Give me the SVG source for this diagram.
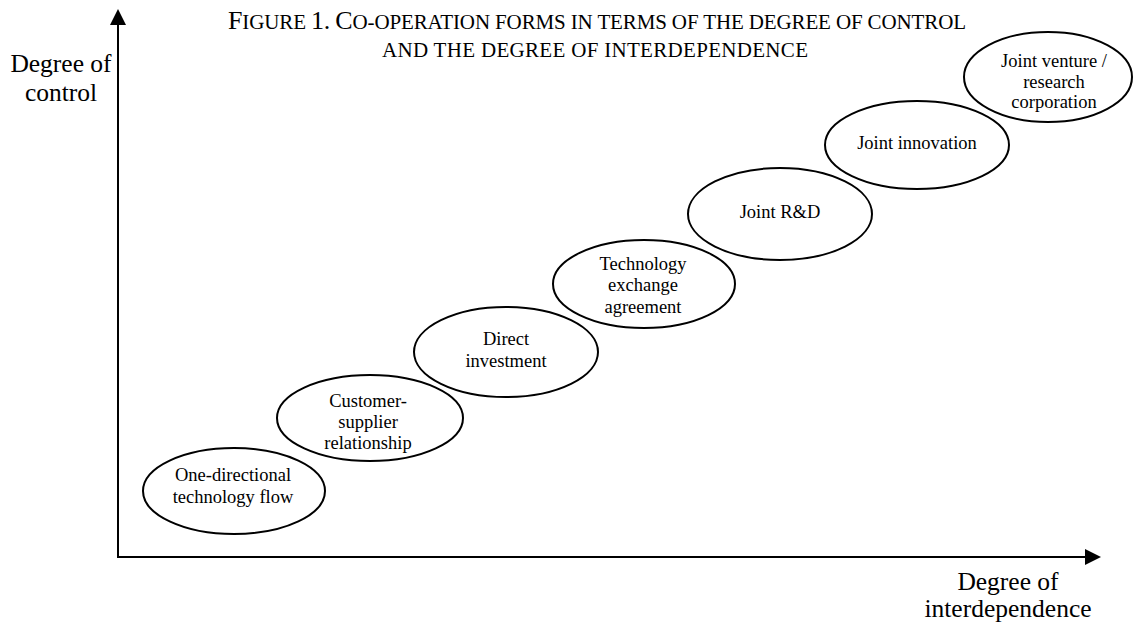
<svg xmlns="http://www.w3.org/2000/svg" width="1138" height="625" viewBox="0 0 1138 625">
<style>
.t{font-family:"Liberation Serif","Times New Roman",serif;fill:#000;text-anchor:middle}
.n{font-size:18.5px}
.ax{font-size:25.5px}
.title{font-size:21px}
.big{font-size:26px}
.node ellipse{fill:#fff;stroke:#000;stroke-width:2}
.axis line{stroke:#000;stroke-width:2}
</style>
<defs>
<marker id="arr" markerUnits="userSpaceOnUse" markerWidth="16" markerHeight="16" refX="0" refY="8" orient="auto">
<path d="M0,0 L16,8 L0,16 z" fill="#000"/>
</marker>
</defs>
<rect width="1138" height="625" fill="#fff"/>
<g id="title">
<text class="t title" x="597" y="29" textLength="738"><tspan class="big">F</tspan>IGURE <tspan class="big">1.</tspan> <tspan class="big">C</tspan>O-OPERATION FORMS IN TERMS OF THE DEGREE OF CONTROL</text>
<text class="t title" x="595" y="57" textLength="426">AND THE DEGREE OF INTERDEPENDENCE</text>
</g>
<g id="connectors" class="axis">
<line x1="118" y1="557" x2="118" y2="25" marker-end="url(#arr)"/>
<line x1="117" y1="557" x2="1085" y2="557" marker-end="url(#arr)"/>
</g>
<g id="y-label"><text class="t ax" x="61" y="72">Degree of</text><text class="t ax" x="61" y="101">control</text></g>
<g id="x-label"><text class="t ax" x="1008" y="590">Degree of</text><text class="t ax" x="1008" y="617">interdependence</text></g>
<g id="n1" class="node"><ellipse cx="234" cy="491" rx="91" ry="43"/><text class="t n" x="233" y="481">One-directional</text><text class="t n" x="233" y="503">technology flow</text></g>
<g id="n2" class="node"><ellipse cx="370" cy="418" rx="93" ry="43"/><text class="t n" x="368" y="407">Customer-</text><text class="t n" x="368" y="428">supplier</text><text class="t n" x="368" y="449">relationship</text></g>
<g id="n3" class="node"><ellipse cx="506" cy="352" rx="92" ry="45"/><text class="t n" x="506" y="345">Direct</text><text class="t n" x="506" y="367">investment</text></g>
<g id="n4" class="node"><ellipse cx="644" cy="284" rx="91" ry="44"/><text class="t n" x="643" y="270">Technology</text><text class="t n" x="643" y="291">exchange</text><text class="t n" x="643" y="313">agreement</text></g>
<g id="n5" class="node"><ellipse cx="780" cy="214" rx="92" ry="46"/><text class="t n" x="780" y="218">Joint R&amp;D</text></g>
<g id="n6" class="node"><ellipse cx="917" cy="145" rx="92" ry="44"/><text class="t n" x="917" y="149">Joint innovation</text></g>
<g id="n7" class="node"><ellipse cx="1048" cy="77" rx="84" ry="45"/><text class="t n" x="1054" y="67">Joint venture /</text><text class="t n" x="1054" y="88">research</text><text class="t n" x="1054" y="108">corporation</text></g>
</svg>
